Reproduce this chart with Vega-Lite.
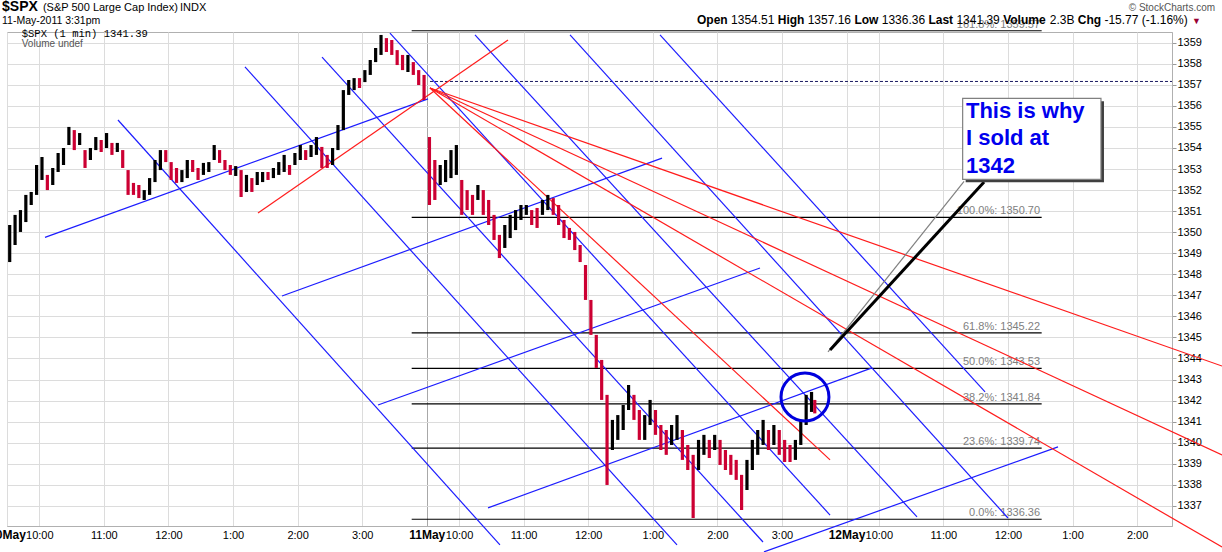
{
  "$schema": "https://vega.github.io/schema/vega-lite/v6.json",
  "autosize": {"type": "none"},
  "padding": {"left": 7, "top": 32, "right": 50, "bottom": 26},
  "width": 1165,
  "height": 494,
  "background": "#ffffff",
  "config": {
    "font": "Liberation Sans",
    "view": {"stroke": "#b0b0b0"}
  },
  "datasets": {
    "price": [
      {"t": 2.5, "hi": 1350.34, "lo": 1348.58, "dir": "up"},
      {"t": 7.5, "hi": 1350.82, "lo": 1349.39, "dir": "up"},
      {"t": 12.5, "hi": 1351.05, "lo": 1350.01, "dir": "up"},
      {"t": 17.5, "hi": 1351.77, "lo": 1350.48, "dir": "up"},
      {"t": 22.5, "hi": 1351.91, "lo": 1351.29, "dir": "up"},
      {"t": 27.5, "hi": 1353.19, "lo": 1351.77, "dir": "up"},
      {"t": 32.5, "hi": 1353.57, "lo": 1352.48, "dir": "up"},
      {"t": 37.5, "hi": 1352.72, "lo": 1352.0, "dir": "dn"},
      {"t": 42.5, "hi": 1353.05, "lo": 1352.24, "dir": "up"},
      {"t": 47.5, "hi": 1353.76, "lo": 1352.86, "dir": "up"},
      {"t": 52.5, "hi": 1354.0, "lo": 1353.19, "dir": "up"},
      {"t": 57.5, "hi": 1355.0, "lo": 1354.14, "dir": "up"},
      {"t": 62.5, "hi": 1354.85, "lo": 1353.9, "dir": "dn"},
      {"t": 67.5, "hi": 1354.71, "lo": 1354.14, "dir": "up"},
      {"t": 72.5, "hi": 1353.9, "lo": 1353.05, "dir": "dn"},
      {"t": 77.5, "hi": 1354.0, "lo": 1353.43, "dir": "up"},
      {"t": 82.5, "hi": 1354.52, "lo": 1353.9, "dir": "up"},
      {"t": 87.5, "hi": 1354.38, "lo": 1353.81, "dir": "dn"},
      {"t": 92.5, "hi": 1354.71, "lo": 1354.0, "dir": "up"},
      {"t": 97.5, "hi": 1354.24, "lo": 1353.67, "dir": "dn"},
      {"t": 102.5, "hi": 1354.24, "lo": 1353.81, "dir": "up"},
      {"t": 107.5, "hi": 1353.9, "lo": 1353.05, "dir": "dn"},
      {"t": 112.5, "hi": 1352.95, "lo": 1351.77, "dir": "dn"},
      {"t": 117.5, "hi": 1352.34, "lo": 1351.77, "dir": "dn"},
      {"t": 122.5, "hi": 1352.24, "lo": 1351.62, "dir": "dn"},
      {"t": 127.5, "hi": 1352.0, "lo": 1351.53, "dir": "up"},
      {"t": 132.5, "hi": 1352.57, "lo": 1351.77, "dir": "up"},
      {"t": 137.5, "hi": 1353.43, "lo": 1352.38, "dir": "up"},
      {"t": 142.5, "hi": 1353.9, "lo": 1352.95, "dir": "up"},
      {"t": 147.5, "hi": 1353.9, "lo": 1353.33, "dir": "dn"},
      {"t": 152.5, "hi": 1353.33, "lo": 1352.48, "dir": "dn"},
      {"t": 157.5, "hi": 1353.05, "lo": 1352.34, "dir": "dn"},
      {"t": 162.5, "hi": 1352.95, "lo": 1352.38, "dir": "up"},
      {"t": 167.5, "hi": 1353.43, "lo": 1352.57, "dir": "up"},
      {"t": 172.5, "hi": 1353.43, "lo": 1352.86, "dir": "dn"},
      {"t": 177.5, "hi": 1353.05, "lo": 1352.48, "dir": "dn"},
      {"t": 182.5, "hi": 1353.29, "lo": 1352.72, "dir": "up"},
      {"t": 187.5, "hi": 1353.33, "lo": 1352.86, "dir": "up"},
      {"t": 192.5, "hi": 1354.14, "lo": 1353.43, "dir": "up"},
      {"t": 197.5, "hi": 1353.9, "lo": 1353.29, "dir": "dn"},
      {"t": 202.5, "hi": 1353.43, "lo": 1352.95, "dir": "dn"},
      {"t": 207.5, "hi": 1353.19, "lo": 1352.72, "dir": "dn"},
      {"t": 212.5, "hi": 1353.14, "lo": 1352.67, "dir": "up"},
      {"t": 217.5, "hi": 1352.95, "lo": 1351.67, "dir": "dn"},
      {"t": 222.5, "hi": 1352.72, "lo": 1351.91, "dir": "up"},
      {"t": 227.5, "hi": 1352.57, "lo": 1351.91, "dir": "dn"},
      {"t": 232.5, "hi": 1352.86, "lo": 1352.24, "dir": "up"},
      {"t": 237.5, "hi": 1352.86, "lo": 1352.38, "dir": "up"},
      {"t": 242.5, "hi": 1352.86, "lo": 1352.48, "dir": "dn"},
      {"t": 247.5, "hi": 1353.05, "lo": 1352.57, "dir": "up"},
      {"t": 252.5, "hi": 1353.33, "lo": 1352.72, "dir": "up"},
      {"t": 257.5, "hi": 1353.67, "lo": 1352.86, "dir": "up"},
      {"t": 262.5, "hi": 1353.19, "lo": 1352.72, "dir": "dn"},
      {"t": 267.5, "hi": 1353.76, "lo": 1353.19, "dir": "up"},
      {"t": 272.5, "hi": 1354.14, "lo": 1353.43, "dir": "up"},
      {"t": 277.5, "hi": 1353.9, "lo": 1353.43, "dir": "dn"},
      {"t": 282.5, "hi": 1354.14, "lo": 1353.57, "dir": "up"},
      {"t": 287.5, "hi": 1354.52, "lo": 1353.67, "dir": "up"},
      {"t": 292.5, "hi": 1354.05, "lo": 1353.05, "dir": "dn"},
      {"t": 297.5, "hi": 1353.67, "lo": 1353.05, "dir": "dn"},
      {"t": 302.5, "hi": 1354.0, "lo": 1353.19, "dir": "up"},
      {"t": 307.5, "hi": 1355.09, "lo": 1353.9, "dir": "up"},
      {"t": 312.5, "hi": 1356.75, "lo": 1354.85, "dir": "up"},
      {"t": 317.5, "hi": 1357.23, "lo": 1356.52, "dir": "up"},
      {"t": 322.5, "hi": 1357.32, "lo": 1356.75, "dir": "up"},
      {"t": 327.5, "hi": 1357.32, "lo": 1356.85, "dir": "dn"},
      {"t": 332.5, "hi": 1357.7, "lo": 1357.13, "dir": "up"},
      {"t": 337.5, "hi": 1358.18, "lo": 1357.47, "dir": "up"},
      {"t": 342.5, "hi": 1358.75, "lo": 1358.08, "dir": "up"},
      {"t": 347.5, "hi": 1359.37, "lo": 1358.42, "dir": "up"},
      {"t": 352.5, "hi": 1359.22, "lo": 1358.56, "dir": "dn"},
      {"t": 357.5, "hi": 1359.13, "lo": 1358.42, "dir": "dn"},
      {"t": 362.5, "hi": 1358.65, "lo": 1357.94, "dir": "dn"},
      {"t": 367.5, "hi": 1358.42, "lo": 1357.7, "dir": "dn"},
      {"t": 372.5, "hi": 1358.42, "lo": 1357.61, "dir": "up"},
      {"t": 377.5, "hi": 1358.08, "lo": 1357.47, "dir": "dn"},
      {"t": 382.5, "hi": 1357.7, "lo": 1356.99, "dir": "dn"},
      {"t": 387.5, "hi": 1357.47, "lo": 1356.28, "dir": "dn"},
      {"t": 392.5, "hi": 1354.52, "lo": 1351.29, "dir": "dn"},
      {"t": 397.5, "hi": 1353.43, "lo": 1351.53, "dir": "dn"},
      {"t": 402.5, "hi": 1353.19, "lo": 1352.24, "dir": "up"},
      {"t": 407.5, "hi": 1353.43, "lo": 1352.38, "dir": "up"},
      {"t": 412.5, "hi": 1353.9, "lo": 1352.57, "dir": "up"},
      {"t": 417.5, "hi": 1354.14, "lo": 1352.72, "dir": "up"},
      {"t": 422.5, "hi": 1352.48, "lo": 1350.82, "dir": "dn"},
      {"t": 427.5, "hi": 1352.0, "lo": 1351.05, "dir": "dn"},
      {"t": 432.5, "hi": 1351.77, "lo": 1350.82, "dir": "dn"},
      {"t": 437.5, "hi": 1352.24, "lo": 1351.53, "dir": "up"},
      {"t": 442.5, "hi": 1352.0, "lo": 1350.82, "dir": "dn"},
      {"t": 447.5, "hi": 1351.53, "lo": 1350.34, "dir": "dn"},
      {"t": 452.5, "hi": 1350.82, "lo": 1349.63, "dir": "dn"},
      {"t": 457.5, "hi": 1349.87, "lo": 1348.77, "dir": "dn"},
      {"t": 462.5, "hi": 1350.34, "lo": 1349.25, "dir": "up"},
      {"t": 467.5, "hi": 1350.82, "lo": 1349.72, "dir": "up"},
      {"t": 472.5, "hi": 1351.05, "lo": 1350.1, "dir": "up"},
      {"t": 477.5, "hi": 1351.29, "lo": 1350.58, "dir": "up"},
      {"t": 482.5, "hi": 1351.29, "lo": 1350.82, "dir": "up"},
      {"t": 487.5, "hi": 1351.05, "lo": 1350.34, "dir": "dn"},
      {"t": 492.5, "hi": 1351.15, "lo": 1350.2, "dir": "dn"},
      {"t": 497.5, "hi": 1351.53, "lo": 1350.82, "dir": "up"},
      {"t": 502.5, "hi": 1351.77, "lo": 1351.05, "dir": "up"},
      {"t": 507.5, "hi": 1351.62, "lo": 1350.82, "dir": "dn"},
      {"t": 512.5, "hi": 1351.29, "lo": 1350.34, "dir": "dn"},
      {"t": 517.5, "hi": 1350.58, "lo": 1349.72, "dir": "dn"},
      {"t": 522.5, "hi": 1350.2, "lo": 1349.63, "dir": "dn"},
      {"t": 527.5, "hi": 1350.01, "lo": 1349.15, "dir": "dn"},
      {"t": 532.5, "hi": 1349.39, "lo": 1348.58, "dir": "dn"},
      {"t": 537.5, "hi": 1348.44, "lo": 1346.78, "dir": "dn"},
      {"t": 542.5, "hi": 1346.78, "lo": 1345.12, "dir": "dn"},
      {"t": 547.5, "hi": 1345.12, "lo": 1343.55, "dir": "dn"},
      {"t": 552.5, "hi": 1343.93, "lo": 1342.03, "dir": "dn"},
      {"t": 557.5, "hi": 1342.27, "lo": 1337.99, "dir": "dn"},
      {"t": 562.5, "hi": 1341.08, "lo": 1339.65, "dir": "up"},
      {"t": 567.5, "hi": 1341.31, "lo": 1340.13, "dir": "up"},
      {"t": 572.5, "hi": 1341.79, "lo": 1340.6, "dir": "up"},
      {"t": 577.5, "hi": 1342.74, "lo": 1341.55, "dir": "up"},
      {"t": 582.5, "hi": 1342.27, "lo": 1341.08, "dir": "dn"},
      {"t": 587.5, "hi": 1341.55, "lo": 1340.13, "dir": "dn"},
      {"t": 592.5, "hi": 1341.31, "lo": 1340.13, "dir": "up"},
      {"t": 597.5, "hi": 1342.03, "lo": 1340.84, "dir": "up"},
      {"t": 602.5, "hi": 1341.55, "lo": 1340.37, "dir": "dn"},
      {"t": 607.5, "hi": 1340.84, "lo": 1339.65, "dir": "dn"},
      {"t": 612.5, "hi": 1340.6, "lo": 1339.42, "dir": "dn"},
      {"t": 617.5, "hi": 1340.84, "lo": 1339.89, "dir": "up"},
      {"t": 622.5, "hi": 1341.31, "lo": 1340.13, "dir": "up"},
      {"t": 627.5, "hi": 1340.6, "lo": 1339.18, "dir": "dn"},
      {"t": 632.5, "hi": 1339.89, "lo": 1338.7, "dir": "dn"},
      {"t": 637.5, "hi": 1339.42, "lo": 1336.42, "dir": "dn"},
      {"t": 642.5, "hi": 1340.13, "lo": 1338.7, "dir": "up"},
      {"t": 647.5, "hi": 1340.37, "lo": 1339.42, "dir": "up"},
      {"t": 652.5, "hi": 1340.13, "lo": 1339.27, "dir": "dn"},
      {"t": 657.5, "hi": 1340.37, "lo": 1339.65, "dir": "up"},
      {"t": 662.5, "hi": 1340.13, "lo": 1338.94, "dir": "dn"},
      {"t": 667.5, "hi": 1339.65, "lo": 1338.7, "dir": "dn"},
      {"t": 672.5, "hi": 1339.42, "lo": 1338.47, "dir": "dn"},
      {"t": 677.5, "hi": 1339.18, "lo": 1338.23, "dir": "dn"},
      {"t": 682.5, "hi": 1338.47, "lo": 1336.8, "dir": "dn"},
      {"t": 687.5, "hi": 1339.18, "lo": 1337.75, "dir": "up"},
      {"t": 692.5, "hi": 1340.13, "lo": 1338.7, "dir": "up"},
      {"t": 697.5, "hi": 1340.6, "lo": 1339.42, "dir": "up"},
      {"t": 702.5, "hi": 1341.08, "lo": 1339.89, "dir": "up"},
      {"t": 707.5, "hi": 1340.6, "lo": 1339.65, "dir": "dn"},
      {"t": 712.5, "hi": 1340.84, "lo": 1339.89, "dir": "up"},
      {"t": 717.5, "hi": 1340.6, "lo": 1339.42, "dir": "dn"},
      {"t": 722.5, "hi": 1340.13, "lo": 1339.08, "dir": "dn"},
      {"t": 727.5, "hi": 1339.89, "lo": 1339.08, "dir": "dn"},
      {"t": 732.5, "hi": 1340.13, "lo": 1339.18, "dir": "up"},
      {"t": 737.5, "hi": 1341.08, "lo": 1339.89, "dir": "up"},
      {"t": 742.5, "hi": 1342.27, "lo": 1340.84, "dir": "up"},
      {"t": 747.5, "hi": 1342.41, "lo": 1341.46, "dir": "up"},
      {"t": 750.5, "hi": 1342.03, "lo": 1341.39, "dir": "dn"}
    ],
    "blue": [
      {"t1": 35.3, "p1": 1349.75, "t2": 391.2, "p2": 1356.33},
      {"t1": 255.5, "p1": 1346.97, "t2": 608.6, "p2": 1353.52},
      {"t1": 344.7, "p1": 1341.79, "t2": 699.6, "p2": 1348.3},
      {"t1": 446.9, "p1": 1336.9, "t2": 803.7, "p2": 1343.55},
      {"t1": 703.3, "p1": 1334.81, "t2": 976.5, "p2": 1339.8},
      {"t1": 103.1, "p1": 1355.33, "t2": 458.0, "p2": 1335.14},
      {"t1": 221.1, "p1": 1357.85, "t2": 622.5, "p2": 1335.14},
      {"t1": 292.7, "p1": 1358.32, "t2": 702.4, "p2": 1335.28},
      {"t1": 355.8, "p1": 1359.46, "t2": 764.7, "p2": 1336.56},
      {"t1": 434.8, "p1": 1359.37, "t2": 845.5, "p2": 1336.47},
      {"t1": 523.1, "p1": 1359.37, "t2": 930.0, "p2": 1336.42},
      {"t1": 606.7, "p1": 1359.37, "t2": 908.7, "p2": 1342.41}
    ],
    "red": [
      {"t1": 233.2, "p1": 1350.91, "t2": 465.5, "p2": 1359.13},
      {"t1": 393.0, "p1": 1356.85, "t2": 1128.9, "p2": 1343.64},
      {"t1": 393.0, "p1": 1356.85, "t2": 1128.9, "p2": 1339.42},
      {"t1": 393.0, "p1": 1356.85, "t2": 1128.9, "p2": 1335.04},
      {"t1": 393.0, "p1": 1356.85, "t2": 764.7, "p2": 1339.18}
    ],
    "fib": [
      {"lab": "161.8%: 1359.57", "p": 1359.57, "t1": 376.0, "t2": 961.3, "tl": 959.8},
      {"lab": "100.0%: 1350.70", "p": 1350.70, "t1": 376.0, "t2": 961.3, "tl": 959.8},
      {"lab": "61.8%: 1345.22", "p": 1345.22, "t1": 376.0, "t2": 961.3, "tl": 959.8},
      {"lab": "50.0%: 1343.53", "p": 1343.53, "t1": 376.0, "t2": 961.3, "tl": 959.8},
      {"lab": "38.2%: 1341.84", "p": 1341.84, "t1": 376.0, "t2": 961.3, "tl": 959.8},
      {"lab": "23.6%: 1339.74", "p": 1339.74, "t1": 376.0, "t2": 961.3, "tl": 959.8},
      {"lab": "0.0%: 1336.36", "p": 1336.36, "t1": 376.0, "t2": 961.3, "tl": 959.8}
    ],
    "prevclose": [{"p": 1357.16, "t1": 393.0, "t2": 1082.4}],
    "circle": [{"t": 741.4, "p": 1342.17}],
    "box": [{"t1": 887.9, "t2": 1016.4, "p1": 1356.36, "p2": 1352.51}],
    "shadow": [{"t1": 890.7, "t2": 1019.2, "p1": 1356.22, "p2": 1352.37}],
    "pointerGrey": [{"t1": 889.2, "p1": 1352.41, "t2": 762.8, "p2": 1344.31}],
    "pointerBlack": [{"t1": 907.8, "p1": 1352.38, "t2": 764.7, "p2": 1344.40}],
    "note": [
      {"t": 891.0, "p": 1355.41, "txt": "This is why"},
      {"t": 891.0, "p": 1354.14, "txt": "I sold at"},
      {"t": 891.0, "p": 1352.82, "txt": "1342"}
    ],
    "hdrBold": [
      {"t": 641.1, "p": 1359.89, "txt": "Open"},
      {"t": 716.1, "p": 1359.89, "txt": "High"},
      {"t": 787.3, "p": 1359.89, "txt": "Low"},
      {"t": 856.1, "p": 1359.89, "txt": "Last"},
      {"t": 925.5, "p": 1359.89, "txt": "Volume"},
      {"t": 994.9, "p": 1359.89, "txt": "Chg"}
    ],
    "hdrVal": [
      {"t": 672.7, "p": 1359.89, "txt": "1354.51"},
      {"t": 743.9, "p": 1359.89, "txt": "1357.16"},
      {"t": 812.7, "p": 1359.89, "txt": "1336.36"},
      {"t": 882.1, "p": 1359.89, "txt": "1341.39"},
      {"t": 968.8, "p": 1359.89, "txt": "2.3B"},
      {"t": 1019.6, "p": 1359.89, "txt": "-15.77 (-1.16%)"}
    ],
    "arrow": [{"t": 1101.0, "p": 1359.89, "txt": "▼"}],
    "copyright": [{"t": 1122.4, "p": 1360.53, "txt": "© StockCharts.com"}],
    "sym": [{"t": -4.6, "p": 1360.51, "txt": "$SPX"}],
    "symName": [
      {"t": 33.4, "p": 1360.51, "txt": "(S&P 500 Large Cap Index)"},
      {"t": 160.7, "p": 1360.51, "txt": "INDX"}
    ],
    "date": [{"t": -4.6, "p": 1359.91, "txt": "11-May-2011 3:31pm"}],
    "legendMono": [{"t": 13.7, "p": 1359.27, "txt": "$SPX (1 min) 1341.39"}],
    "legendVol": [{"t": 13.7, "p": 1358.80, "txt": "Volume undef"}]
  },
  "layer": [
    {
      "data": {"name": "fib"},
      "mark": {"type": "rule", "color": "#000000", "strokeWidth": 1.2, "clip": false},
      "encoding": {
        "x": {"field": "t1", "type": "quantitative", "scale": {"domain": [0, 1082.4], "nice": false, "zero": false},
          "axis": {
            "title": null,
            "orient": "bottom",
            "values": [0, 30, 90, 150, 210, 270, 330, 390, 420, 480, 540, 600, 660, 720, 780, 810, 870, 930, 990, 1050],
            "labelExpr": "datum.value == 0 ? '10May' : datum.value == 390 ? '11May' : datum.value == 780 ? '12May' : (((floor(((datum.value % 390) - 30) / 60) + 9) % 12) + 1) + ':00'",
            "labelOverlap": false,
            "labelFlush": false,
            "labelBound": false,
            "labelColor": "#000000",
            "labelFontSize": {"condition": {"test": "datum.value % 390 == 0", "value": 12}, "value": 11},
            "labelFontWeight": {"condition": {"test": "datum.value % 390 == 0", "value": "bold"}, "value": "normal"},
            "labelPadding": 3,
            "ticks": false,
            "domainColor": "#b0b0b0",
            "grid": true,
            "gridColor": {"condition": {"test": "datum.value == 390", "value": "#a8a8a8"}, "value": "#dcdcdc"},
            "gridWidth": 1
          }
        },
        "x2": {"field": "t2"},
        "y": {"field": "p", "type": "quantitative", "scale": {"domain": [1336.04, 1359.51], "nice": false, "zero": false},
          "axis": {
            "title": null,
            "orient": "right",
            "values": [1337, 1338, 1339, 1340, 1341, 1342, 1343, 1344, 1345, 1346, 1347, 1348, 1349, 1350, 1351, 1352, 1353, 1354, 1355, 1356, 1357, 1358, 1359],
            "tickCount": 24,
            "format": "d",
            "labelOverlap": false,
            "labelBound": false,
            "labelFlush": false,
            "labelFontSize": 11,
            "labelColor": "#000000",
            "labelPadding": 1,
            "tickSize": 4,
            "tickColor": "#999999",
            "domainColor": "#b0b0b0",
            "grid": true,
            "gridColor": "#dcdcdc"
          }
        }
      }
    },
    {
      "data": {"name": "fib"},
      "mark": {"type": "text", "align": "right", "baseline": "alphabetic", "dy": -3, "fontSize": 11, "color": "#808080", "clip": false},
      "encoding": {
        "x": {"field": "tl", "type": "quantitative", "axis": {"orient": "bottom", "title": null}},
        "y": {"field": "p", "type": "quantitative", "axis": {"orient": "right", "title": null}},
        "text": {"field": "lab"}
      }
    },
    {
      "data": {"name": "prevclose"},
      "mark": {"type": "rule", "color": "#1a1a60", "strokeWidth": 1, "strokeDash": [3, 2]},
      "encoding": {
        "x": {"field": "t1", "type": "quantitative", "axis": {"orient": "bottom", "title": null}},
        "x2": {"field": "t2"},
        "y": {"field": "p", "type": "quantitative", "axis": {"orient": "right", "title": null}}
      }
    },
    {
      "data": {"name": "blue"},
      "mark": {"type": "rule", "color": "#1c1cff", "strokeWidth": 1.2, "clip": false},
      "encoding": {
        "x": {"field": "t1", "type": "quantitative", "axis": {"orient": "bottom", "title": null}},
        "y": {"field": "p1", "type": "quantitative", "axis": {"orient": "right", "title": null}},
        "x2": {"field": "t2"},
        "y2": {"field": "p2"}
      }
    },
    {
      "data": {"name": "red"},
      "mark": {"type": "rule", "color": "#ff1c1c", "strokeWidth": 1.2, "clip": false},
      "encoding": {
        "x": {"field": "t1", "type": "quantitative", "axis": {"orient": "bottom", "title": null}},
        "y": {"field": "p1", "type": "quantitative", "axis": {"orient": "right", "title": null}},
        "x2": {"field": "t2"},
        "y2": {"field": "p2"}
      }
    },
    {
      "data": {"name": "price"},
      "mark": {"type": "rule", "strokeWidth": 3.2},
      "encoding": {
        "x": {"field": "t", "type": "quantitative", "axis": {"orient": "bottom", "title": null}},
        "y": {"field": "lo", "type": "quantitative", "axis": {"orient": "right", "title": null}},
        "y2": {"field": "hi"},
        "color": {"field": "dir", "type": "nominal", "scale": {"domain": ["up", "dn"], "range": ["#000000", "#cc0033"]}, "legend": null}
      }
    },
    {
      "data": {"name": "circle"},
      "mark": {"type": "point", "shape": "circle", "filled": false, "size": 2300, "strokeWidth": 3, "color": "#0000dd", "opacity": 1},
      "encoding": {
        "x": {"field": "t", "type": "quantitative", "axis": {"orient": "bottom", "title": null}},
        "y": {"field": "p", "type": "quantitative", "axis": {"orient": "right", "title": null}}
      }
    },
    {
      "data": {"name": "pointerGrey"},
      "mark": {"type": "rule", "color": "#808080", "strokeWidth": 1.2},
      "encoding": {
        "x": {"field": "t1", "type": "quantitative", "axis": {"orient": "bottom", "title": null}},
        "y": {"field": "p1", "type": "quantitative", "axis": {"orient": "right", "title": null}},
        "x2": {"field": "t2"},
        "y2": {"field": "p2"}
      }
    },
    {
      "data": {"name": "pointerBlack"},
      "mark": {"type": "rule", "color": "#000000", "strokeWidth": 3},
      "encoding": {
        "x": {"field": "t1", "type": "quantitative", "axis": {"orient": "bottom", "title": null}},
        "y": {"field": "p1", "type": "quantitative", "axis": {"orient": "right", "title": null}},
        "x2": {"field": "t2"},
        "y2": {"field": "p2"}
      }
    },
    {
      "data": {"name": "shadow"},
      "mark": {"type": "rect", "color": "#404040"},
      "encoding": {
        "x": {"field": "t1", "type": "quantitative", "axis": {"orient": "bottom", "title": null}},
        "x2": {"field": "t2"},
        "y": {"field": "p1", "type": "quantitative", "axis": {"orient": "right", "title": null}},
        "y2": {"field": "p2"}
      }
    },
    {
      "data": {"name": "box"},
      "mark": {"type": "rect", "fill": "#ffffff", "stroke": "#808080", "strokeWidth": 1.2},
      "encoding": {
        "x": {"field": "t1", "type": "quantitative", "axis": {"orient": "bottom", "title": null}},
        "x2": {"field": "t2"},
        "y": {"field": "p1", "type": "quantitative", "axis": {"orient": "right", "title": null}},
        "y2": {"field": "p2"}
      }
    },
    {
      "data": {"name": "note"},
      "mark": {"type": "text", "align": "left", "baseline": "alphabetic", "fontSize": 22, "fontWeight": "bold", "color": "#0000ee"},
      "encoding": {
        "x": {"field": "t", "type": "quantitative", "axis": {"orient": "bottom", "title": null}},
        "y": {"field": "p", "type": "quantitative", "axis": {"orient": "right", "title": null}},
        "text": {"field": "txt"}
      }
    },
    {
      "data": {"name": "hdrBold"},
      "mark": {"type": "text", "align": "left", "baseline": "alphabetic", "fontSize": 12, "fontWeight": "bold", "color": "#000000", "clip": false},
      "encoding": {
        "x": {"field": "t", "type": "quantitative", "axis": {"orient": "bottom", "title": null}},
        "y": {"field": "p", "type": "quantitative", "axis": {"orient": "right", "title": null}},
        "text": {"field": "txt"}
      }
    },
    {
      "data": {"name": "hdrVal"},
      "mark": {"type": "text", "align": "left", "baseline": "alphabetic", "fontSize": 12, "color": "#000000", "clip": false},
      "encoding": {
        "x": {"field": "t", "type": "quantitative", "axis": {"orient": "bottom", "title": null}},
        "y": {"field": "p", "type": "quantitative", "axis": {"orient": "right", "title": null}},
        "text": {"field": "txt"}
      }
    },
    {
      "data": {"name": "arrow"},
      "mark": {"type": "text", "align": "left", "baseline": "alphabetic", "fontSize": 9, "color": "#990033", "clip": false},
      "encoding": {
        "x": {"field": "t", "type": "quantitative", "axis": {"orient": "bottom", "title": null}},
        "y": {"field": "p", "type": "quantitative", "axis": {"orient": "right", "title": null}},
        "text": {"field": "txt"}
      }
    },
    {
      "data": {"name": "copyright"},
      "mark": {"type": "text", "align": "right", "baseline": "alphabetic", "fontSize": 10, "color": "#555555", "clip": false},
      "encoding": {
        "x": {"field": "t", "type": "quantitative", "axis": {"orient": "bottom", "title": null}},
        "y": {"field": "p", "type": "quantitative", "axis": {"orient": "right", "title": null}},
        "text": {"field": "txt"}
      }
    },
    {
      "data": {"name": "sym"},
      "mark": {"type": "text", "align": "left", "baseline": "alphabetic", "fontSize": 14, "fontWeight": "bold", "color": "#000000", "clip": false},
      "encoding": {
        "x": {"field": "t", "type": "quantitative", "axis": {"orient": "bottom", "title": null}},
        "y": {"field": "p", "type": "quantitative", "axis": {"orient": "right", "title": null}},
        "text": {"field": "txt"}
      }
    },
    {
      "data": {"name": "symName"},
      "mark": {"type": "text", "align": "left", "baseline": "alphabetic", "fontSize": 11, "color": "#000000", "clip": false},
      "encoding": {
        "x": {"field": "t", "type": "quantitative", "axis": {"orient": "bottom", "title": null}},
        "y": {"field": "p", "type": "quantitative", "axis": {"orient": "right", "title": null}},
        "text": {"field": "txt"}
      }
    },
    {
      "data": {"name": "date"},
      "mark": {"type": "text", "align": "left", "baseline": "alphabetic", "fontSize": 10.5, "color": "#000000", "clip": false},
      "encoding": {
        "x": {"field": "t", "type": "quantitative", "axis": {"orient": "bottom", "title": null}},
        "y": {"field": "p", "type": "quantitative", "axis": {"orient": "right", "title": null}},
        "text": {"field": "txt"}
      }
    },
    {
      "data": {"name": "legendMono"},
      "mark": {"type": "text", "align": "left", "baseline": "alphabetic", "fontSize": 10.5, "font": "Liberation Mono", "color": "#000000"},
      "encoding": {
        "x": {"field": "t", "type": "quantitative", "axis": {"orient": "bottom", "title": null}},
        "y": {"field": "p", "type": "quantitative", "axis": {"orient": "right", "title": null}},
        "text": {"field": "txt"}
      }
    },
    {
      "data": {"name": "legendVol"},
      "mark": {"type": "text", "align": "left", "baseline": "alphabetic", "fontSize": 10, "color": "#555555"},
      "encoding": {
        "x": {"field": "t", "type": "quantitative", "axis": {"orient": "bottom", "title": null}},
        "y": {"field": "p", "type": "quantitative", "axis": {"orient": "right", "title": null}},
        "text": {"field": "txt"}
      }
    }
  ]
}
